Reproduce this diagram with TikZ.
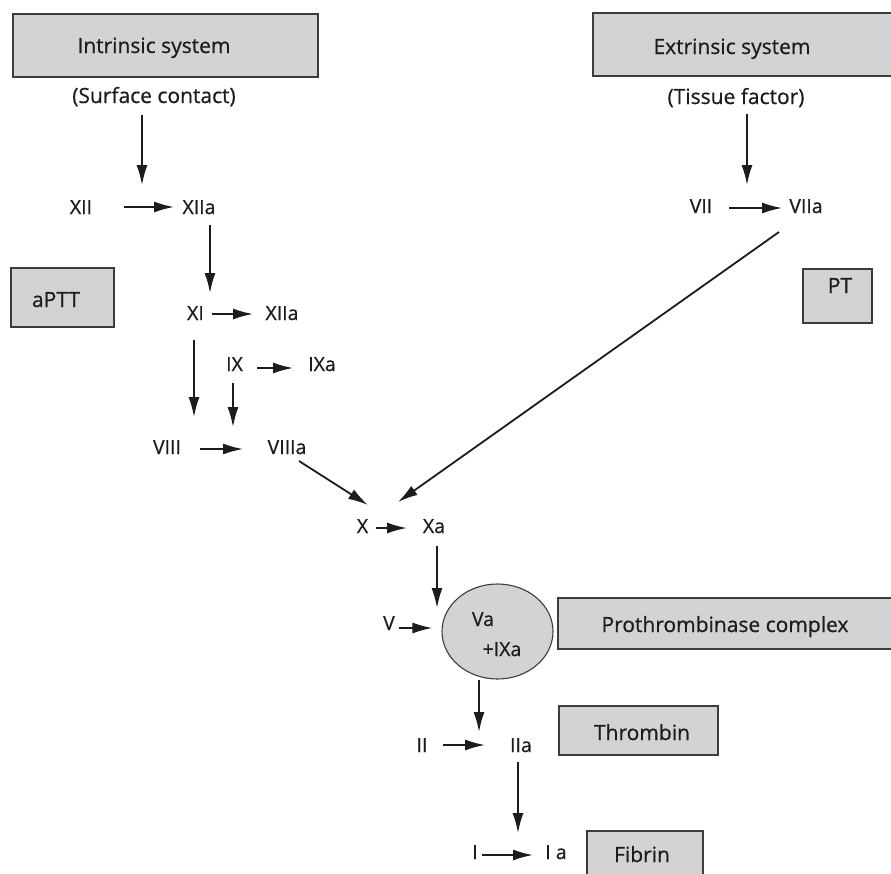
\documentclass[tikz,border=0pt]{standalone}
\usepackage{fontspec}
\setmainfont[FakeBold=0.6]{Open Sans}
\usetikzlibrary{shapes.geometric,arrows.meta}
\definecolor{boxgray}{RGB}{210,211,213}
\definecolor{edgegray}{RGB}{60,60,60}
\definecolor{ink}{RGB}{30,27,28}
\begin{document}
\begin{tikzpicture}[x=1pt,y=-1pt,
  box/.style={draw=edgegray,line width=1.3pt,fill=boxgray,rectangle,inner sep=0pt},
  oval/.style={draw=edgegray,line width=1.1pt,fill=boxgray,ellipse,inner sep=0pt},
  blab/.style={anchor=base,inner sep=0pt,text=ink,font=\fontsize{21}{25}\selectfont},
  fac/.style={anchor=base,inner sep=0pt,text=ink,font=\fontsize{19.5}{23}\selectfont},
  arr/.style={draw=ink,line width=1.8pt,-{Latex[length=20pt,width=11pt]}}]
\useasboundingbox (0,0) rectangle (891,873);
\fill[white] (0,0) rectangle (891,873);
\clip (0,0) rectangle (891,873);
% boxes
\node[box,minimum width=305pt,minimum height=63pt] (intrbox) at (165.5,45.5) {};
\node[box,minimum width=307pt,minimum height=63pt] (extrbox) at (746.5,44.5) {};
\node[box,minimum width=103pt,minimum height=59pt] (apttbox) at (62.5,297.5) {};
\node[box,minimum width=69pt,minimum height=54pt] (ptbox) at (837.5,296) {};
\node[box,minimum width=342pt,minimum height=51pt] (probox) at (729,623.5) {};
\node[box,minimum width=159pt,minimum height=49pt] (thrbox) at (638.5,730.5) {};
\node[box,minimum width=116pt,minimum height=64pt] (fibbox) at (645,863) {};
\node[oval,minimum width=111pt,minimum height=95pt] (cplx) at (497.5,631.5) {};
% box labels
\node[blab] (intr) at (154,53) {Intrinsic system};
\node[blab] (extr) at (732,54) {Extrinsic system};
\node[blab] (aptt) at (56,307) {aPTT};
\node[blab] (pt) at (840,293) {PT};
\node[blab] (pro) at (725,632) {Prothrombinase complex};
\node[blab] (thr) at (642,740) {Thrombin};
\node[blab] (fib) at (642,862) {Fibrin};
\node[fac] (Va) at (483,626) {Va};
\node[fac] (IXa2) at (502,656) {+IXa};
% other labels
\node[blab] (surf) at (154,103) {(Surface contact)};
\node[blab] (tiss) at (736,104) {(Tissue factor)};
\node[fac] (XII) at (81,214) {XII};
\node[fac] (XIIa) at (199,214) {XIIa};
\node[fac] (VII) at (701,213) {VII};
\node[fac] (VIIa) at (806,213) {VIIa};
\node[fac] (XI) at (195.5,320) {XI};
\node[fac] (XIIb) at (282,320) {XIIa};
\node[fac] (IX) at (234.5,371) {IX};
\node[fac] (IXa) at (322,371) {IXa};
\node[fac] (VIII) at (167,454) {VIII};
\node[fac] (VIIIa) at (287,454) {VIIIa};
\node[fac] (X) at (362.5,533) {X};
\node[fac] (Xa) at (434,533) {Xa};
\node[fac] (V) at (389,630) {V};
\node[fac] (II) at (422,752) {II};
\node[fac] (IIa) at (521,752) {IIa};
\node[fac] (I) at (475,859) {I};
\node[fac] (Ia) at (556,859) {I a};
% arrows
\draw[arr] ([shift={(-12,12)}]surf.base) -- ([shift={(-57,-29)}]XIIa.base);
\draw[arr] ([shift={(43,-7)}]XII.base) -- ([shift={(-25,-7)}]XIIa.base);
\draw[arr] ([shift={(11,11)}]XIIa.base) -- ([shift={(14.5,-27)}]XI.base);
\draw[arr] ([shift={(16.5,-6)}]XI.base) -- ([shift={(-29,-6)}]XIIb.base);
\draw[arr] ([shift={(-1.5,20)}]XI.base) -- ([shift={(27,-37)}]VIII.base);
\draw[arr] ([shift={(22.5,-3)}]IX.base) -- ([shift={(-29,-3)}]IXa.base);
\draw[arr] ([shift={(-1.5,12)}]IX.base) -- ([shift={(-54,-27)}]VIIIa.base);
\draw[arr] ([shift={(33,-5)}]VIII.base) -- ([shift={(-44,-5)}]VIIIa.base);
\draw[arr] ([shift={(12,7)}]VIIIa.base) -- ([shift={(5.5,-28)}]X.base);
\draw[arr] ([shift={(-27,19)}]VIIa.base) -- ([shift={(35.5,-31)}]X.base);
\draw[arr] ([shift={(11,10)}]tiss.base) -- ([shift={(46,-28)}]VII.base);
\draw[arr] ([shift={(28,-5)}]VII.base) -- ([shift={(-24,-5)}]VIIa.base);
\draw[arr] ([shift={(13.5,-5)}]X.base) -- ([shift={(-27,-5)}]Xa.base);
\draw[arr] ([shift={(3,13)}]Xa.base) -- ([shift={(48,-22)}]V.base);
\draw[arr] ([shift={(10,-2)}]V.base) -- ([shift={(-9,-3.5)}]cplx.west);
\draw[arr] ([shift={(-18.5,0)}]cplx.south) -- ([shift={(-42,-20)}]IIa.base);
\draw[arr] ([shift={(21,-7)}]II.base) -- ([shift={(-36,-7)}]IIa.base);
\draw[arr] ([shift={(-3,10)}]IIa.base) -- ([shift={(-38,-26)}]Ia.base);
\draw[arr] ([shift={(7,-4)}]I.base) -- ([shift={(-23,-4)}]Ia.base);
\end{tikzpicture}
\end{document}
